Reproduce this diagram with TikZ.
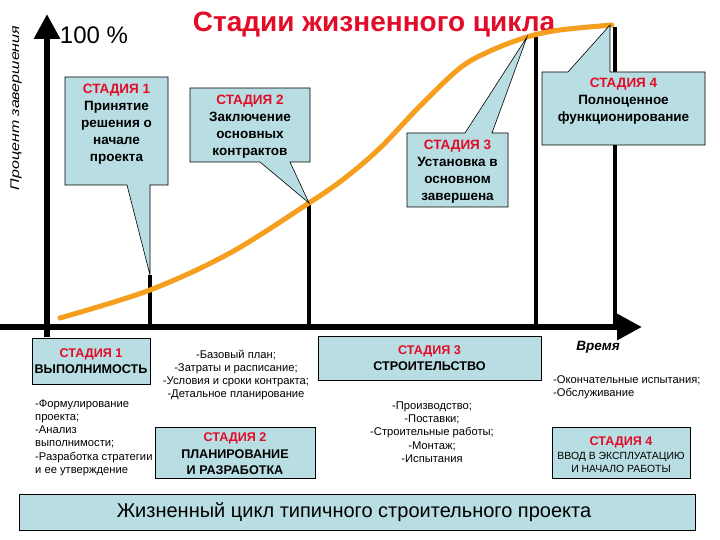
\documentclass[tikz,border=0pt]{standalone}
\usepackage{fontspec}
\setmainfont{Liberation Sans}
\usetikzlibrary{arrows.meta}
\definecolor{boxblue}{RGB}{184,221,226}
\definecolor{curveorange}{RGB}{246,158,30}
\definecolor{stagered}{RGB}{226,12,40}
\newcommand\myfs[2]{\fontsize{#1}{#2}\selectfont}
\begin{document}
\begin{tikzpicture}[x=1pt,y=-1pt,
  callbox/.style={fill=boxblue,draw=black,line width=0.6pt},
  ctext/.style={align=center,inner sep=0pt,font=\bfseries\myfs{13.5}{17}},
  btext/.style={align=center,inner sep=0pt,font=\bfseries\myfs{12.6}{16.5}},
  ltext/.style={inner sep=0pt,font=\myfs{11.2}{13.2}},
  axisline/.style={line width=6pt,-{Triangle[length=25pt,width=25pt]}},
  vline/.style={line width=4pt},
  curve/.style={line width=5pt,curveorange,line cap=round,line join=round}
]
\useasboundingbox[fill=white] (0,0) rectangle (720,540);
% title and labels
\node[text=stagered,font=\bfseries\myfs{28}{32}] (title) at (374,24.5) {Стадии жизненного цикла};
\node[font=\myfs{24}{26},inner sep=0pt] (pct) at (94,35) {100 \%};
\node[rotate=90,font=\itshape\myfs{12.5}{14},inner sep=0pt] (ylab) at (16,108) {\scalebox{1.28}[1]{Процент завершения}};
% axes
\coordinate (ybot) at (47,337);
\coordinate (ytop) at (47,14);
\coordinate (xleft) at (0,327);
\coordinate (xright) at (642,327);
\draw[axisline] (ybot) -- (ytop);
\draw[axisline] (xleft) -- (xright);
% vertical stage lines
\coordinate (t1) at (150,275); \coordinate (b1) at (150,327);
\coordinate (t2) at (309,203); \coordinate (b2) at (309,327);
\coordinate (t3) at (536,37);  \coordinate (b3) at (536,327);
\coordinate (t4) at (615,27);  \coordinate (b4) at (615,327);
\draw[vline] (t1) -- (b1);
\draw[vline] (t2) -- (b2);
\draw[vline] (t3) -- (b3);
\draw[vline] (t4) -- (b4);
% S-curve
\draw[curve] plot[smooth,tension=0.55] coordinates {(60,318) (150,290) (230,253) (309,203) (345,178) (380,148) (420,106) (460,68) (490,51) (527,37) (560,30) (612,25)};
% callouts
\filldraw[callbox] (65,77) -- (168,77) -- (168,185) -- (150,185) -- (t1) -- (127,185) -- (65,185) -- cycle;
\node[ctext] (c1) at (116.5,124) {{\color{stagered}СТАДИЯ 1}\\Принятие\\решения о\\начале\\проекта};
\filldraw[callbox] (190,88) -- (310,88) -- (310,162) -- (290,162) -- (t2) -- (260,162) -- (190,162) -- cycle;
\node[ctext] (c2) at (250,127) {{\color{stagered}СТАДИЯ 2}\\Заключение\\основных\\контрактов};
\filldraw[callbox] (407,133) -- (465,133) -- (527,37) -- (492,133) -- (508,133) -- (508,207) -- (407,207) -- cycle;
\node[ctext] (c3) at (457.5,172) {{\color{stagered}СТАДИЯ 3}\\Установка в\\основном\\завершена};
\filldraw[callbox] (542,72) -- (568,72) -- (610,25) -- (610,72) -- (705,72) -- (705,145) -- (542,145) -- cycle;
\node[ctext] (c4) at (623.5,101) {{\color{stagered}СТАДИЯ 4}\\Полноценное\\функционирование};
% bottom stage boxes
\node[callbox,minimum width=118pt,minimum height=46pt,inner sep=0pt] (s1) at (91,361) {};
\node[btext] at (s1) {{\color{stagered}СТАДИЯ 1}\\ВЫПОЛНИМОСТЬ};
\node[callbox,minimum width=160pt,minimum height=51pt,inner sep=0pt] (s2) at (235,452.5) {};
\node[btext] at (235,454) {{\color{stagered}СТАДИЯ 2}\\ПЛАНИРОВАНИЕ\\И РАЗРАБОТКА};
\node[callbox,minimum width=223pt,minimum height=44pt,inner sep=0pt] (s3) at (429.5,358) {};
\node[btext] at (s3) {{\color{stagered}СТАДИЯ 3}\\СТРОИТЕЛЬСТВО};
\node[callbox,minimum width=138pt,minimum height=51pt,inner sep=0pt] (s4) at (621,452.5) {};
\node[align=center,inner sep=0pt,font=\myfs{10.4}{13.5}] at (621,455) {{\bfseries\myfs{12.6}{14}\color{stagered}СТАДИЯ 4}\\ВВОД В ЭКСПЛУАТАЦИЮ\\И НАЧАЛО РАБОТЫ};
% lists
\node[ltext,align=left,anchor=west] (l1) at (35,437.5) {-Формулирование\\проекта;\\-Анализ\\выполнимости;\\-Разработка стратегии\\и ее утверждение};
\node[ltext,align=center] (l2) at (236,375) {-Базовый план;\\-Затраты и расписание;\\-Условия и сроки контракта;\\-Детальное планирование};
\node[ltext,align=center] (l3) at (432,432) {-Производство;\\-Поставки;\\-Строительные работы;\\-Монтаж;\\-Испытания};
\node[ltext,align=left,anchor=west] (l4) at (553,387) {-Окончательные испытания;\\-Обслуживание};
\node[font=\bfseries\itshape\myfs{13.5}{15},inner sep=0pt] (time) at (598,347) {Время};
% banner
\node[callbox,minimum width=676pt,minimum height=36pt,inner sep=0pt] (banner) at (357,512) {};
\node[font=\myfs{20}{22},inner sep=0pt] at (354,512) {Жизненный цикл типичного строительного проекта};
\end{tikzpicture}
\end{document}
